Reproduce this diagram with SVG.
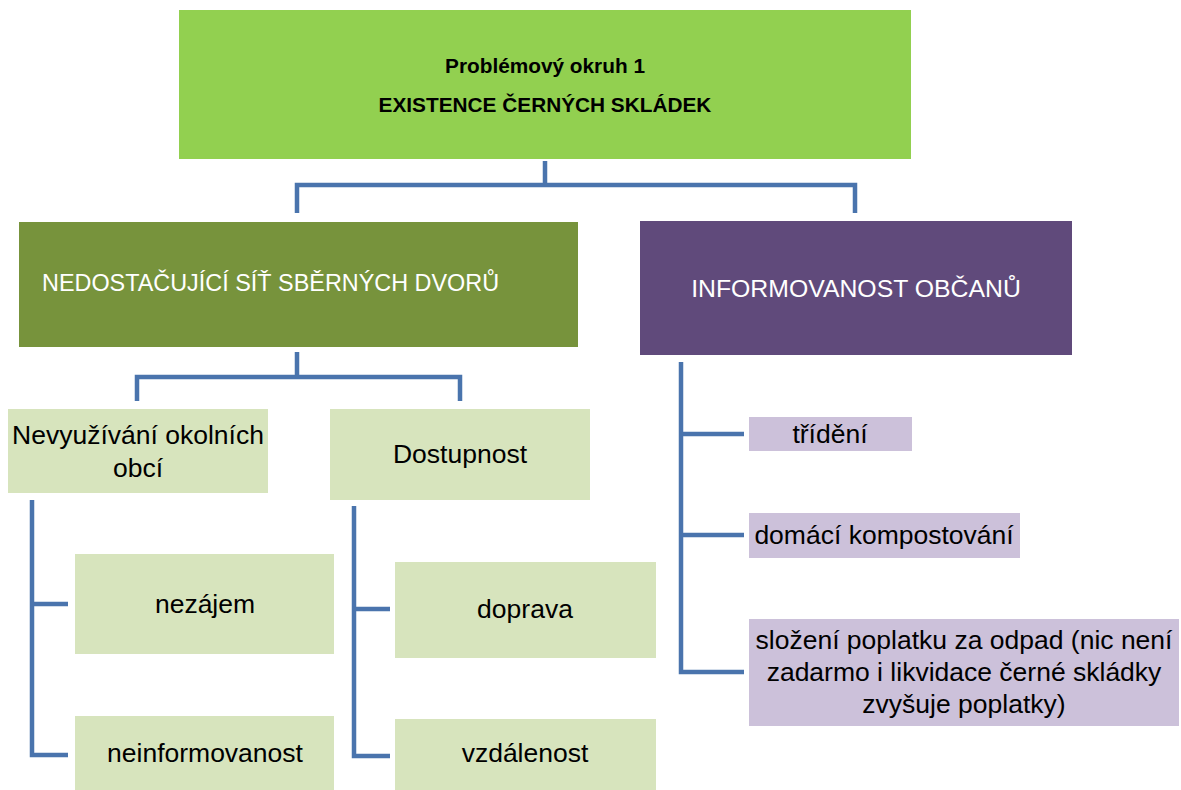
<svg xmlns="http://www.w3.org/2000/svg" width="1181" height="790" viewBox="0 0 1181 790">
<style>
text{font-family:"Liberation Sans","Open Sans",sans-serif;dominant-baseline:central;text-anchor:middle}
.t{font-size:26.5px;fill:#000}
.top{font-size:20.8px;font-weight:bold;fill:#000}
.h{fill:#fff}
.c{fill:none;stroke:#4a74ad;stroke-width:4.5;stroke-linejoin:miter;stroke-linecap:butt}
.g{fill:#d7e4bd}
.p{fill:#ccc1da}
</style>
<rect width="1181" height="790" fill="#fff"/>
<g id="connectors">
<path class="c" d="M545 161V185M297 213V185H855V213"/>
<path class="c" d="M297 352V377M137 401V377H460V401"/>
<path class="c" d="M68 604H32V500M32 604V755H68"/>
<path class="c" d="M390 609H354V506M354 609V756H390"/>
<path class="c" d="M681 362V672H744M681 434H744M681 535H744"/>
</g>
<g id="n-top"><rect x="179" y="10" width="732" height="149" fill="#92d050"/>
<text class="top" x="545" y="65">Problémový okruh 1</text>
<text class="top" x="545" y="104">EXISTENCE ČERNÝCH SKLÁDEK</text></g>
<g id="n-nedostacujici"><rect x="19" y="222" width="559" height="125" fill="#77933c"/>
<text class="h" x="42" y="283" style="text-anchor:start;font-size:23.4px">NEDOSTAČUJÍCÍ SÍŤ SBĚRNÝCH DVORŮ</text></g>
<g id="n-informovanost"><rect x="640" y="221" width="432" height="134" fill="#604a7b"/>
<text class="h" x="856" y="288" style="font-size:24.8px">INFORMOVANOST OBČANŮ</text></g>
<g id="n-nevyuzivani"><rect class="g" x="8" y="409" width="260" height="84"/>
<text class="t" x="138" y="435">Nevyužívání okolních</text>
<text class="t" x="138" y="468">obcí</text></g>
<g id="n-dostupnost"><rect class="g" x="330" y="409" width="260" height="91"/>
<text class="t" x="460" y="454">Dostupnost</text></g>
<g id="n-nezajem"><rect class="g" x="75" y="554" width="259" height="100"/>
<text class="t" x="205" y="604">nezájem</text></g>
<g id="n-neinformovanost"><rect class="g" x="75" y="716" width="259" height="74"/>
<text class="t" x="205" y="753">neinformovanost</text></g>
<g id="n-doprava"><rect class="g" x="395" y="562" width="261" height="96"/>
<text class="t" x="525" y="609">doprava</text></g>
<g id="n-vzdalenost"><rect class="g" x="395" y="719" width="261" height="71"/>
<text class="t" x="525" y="753">vzdálenost</text></g>
<g id="n-trideni"><rect class="p" x="749" y="417" width="163" height="34"/>
<text class="t" x="830" y="434">třídění</text></g>
<g id="n-kompostovani"><rect class="p" x="749" y="513" width="271" height="45"/>
<text class="t" x="884" y="535">domácí kompostování</text></g>
<g id="n-slozeni"><rect class="p" x="749" y="619" width="430" height="107"/>
<text class="t" x="964" y="640">složení poplatku za odpad (nic není</text>
<text class="t" x="964" y="672">zadarmo i likvidace černé skládky</text>
<text class="t" x="964" y="704">zvyšuje poplatky)</text></g>
</svg>
